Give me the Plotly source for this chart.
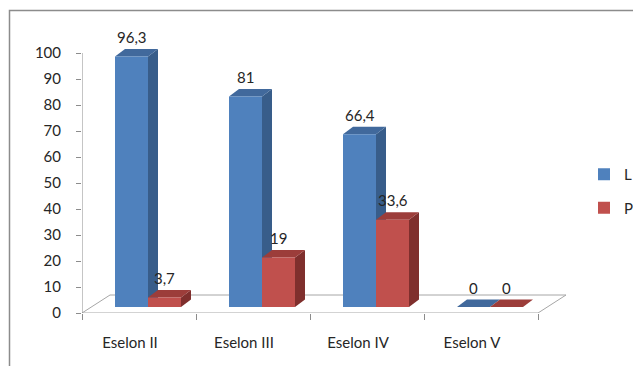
import plotly.graph_objects as go

# Data
categories = ["Eselon II", "Eselon III", "Eselon IV", "Eselon V"]
series_names = ["L", "P"]
values_L = [96.3, 81, 66.4, 0]
values_P = [3.7, 19, 33.6, 0]
y_ticks = [0, 10, 20, 30, 40, 50, 60, 70, 80, 90, 100]

# Layout geometry (pixels)
W, H = 633, 366
ML, MR, MT, MB = 82, 0, 20, 53
PW, PH = W - ML - MR, H - MT - MB
PX_PER_CAT = 114.0
PX_PER_UNIT = 2.6
x_range = [0, PW / PX_PER_CAT]
y_range = [0, PH / PX_PER_UNIT]

def px_x(p):
    return p / PX_PER_CAT

def px_y(p):
    return p / PX_PER_UNIT

# 3D offsets in data units
FLOOR_DX, FLOOR_DY = px_x(28), px_y(18)      # floor depth
FRONT_DX, FRONT_DY = px_x(9), px_y(6)        # bar front plane inside floor
BAR_DX, BAR_DY = px_x(10), px_y(7.5)         # bar depth
BAR_W = px_x(33)

colors = {
    "L": {"front": "#4F81BD", "side": "#385D8A", "top": "#41699C"},
    "P": {"front": "#C0504D", "side": "#7F2F2D", "top": "#9C3D3A"},
}

def fmt(v):
    return f"{v:g}".replace(".", ",")

shapes = []
annotations = []

# Floor
shapes.append(dict(
    type="path", xref="x", yref="y", layer="below",
    path=(f"M 0 0 L {len(categories)} 0 L {len(categories) + FLOOR_DX} {FLOOR_DY} "
          f"L {FLOOR_DX} {FLOOR_DY} Z"),
    fillcolor="white", line=dict(color="#A6A6A6", width=1),
))

# Vertical value axis line
shapes.append(dict(type="line", xref="x", yref="y", x0=0, x1=0, y0=0, y1=100,
                   line=dict(color="#8C8C8C", width=1), layer="below"))

fig = go.Figure()

for s_idx, (name, vals) in enumerate(zip(series_names, [values_L, values_P])):
    c = colors[name]
    centers = [i + 0.5 + FRONT_DX + (s_idx - 0.5) * BAR_W for i in range(len(categories))]
    fig.add_trace(go.Bar(
        x=centers, y=vals, base=[FRONT_DY] * len(vals), width=BAR_W,
        name=name, marker=dict(color=c["front"], line=dict(width=0)),
        legendgroup=name, hoverinfo="skip",
    ))
    for xc, v in zip(centers, vals):
        x0, x1 = xc - BAR_W / 2, xc + BAR_W / 2
        yb, yt = FRONT_DY, FRONT_DY + v
        # side face
        if v > 0:
            shapes.append(dict(
                type="path", xref="x", yref="y", layer="below",
                path=(f"M {x1} {yb} L {x1 + BAR_DX} {yb + BAR_DY} "
                      f"L {x1 + BAR_DX} {yt + BAR_DY} L {x1} {yt} Z"),
                fillcolor=c["side"], line=dict(width=0),
            ))
        # top face
        shapes.append(dict(
            type="path", xref="x", yref="y", layer="below",
            path=(f"M {x0} {yt} L {x1} {yt} L {x1 + BAR_DX} {yt + BAR_DY} "
                  f"L {x0 + BAR_DX} {yt + BAR_DY} Z"),
            fillcolor=c["top"], line=dict(width=0),
        ))
        annotations.append(dict(
            x=xc, y=yt + BAR_DY, xref="x", yref="y", text=fmt(v),
            showarrow=False, yanchor="bottom", yshift=1,
            font=dict(size=15, color="#262626"),
        ))

# Outer chart border
shapes.append(dict(
    type="rect", xref="paper", yref="paper", layer="above",
    x0=(9.5 - ML) / PW, x1=(W + 10 - ML) / PW,
    y0=(MT + PH - H - 10) / PH, y1=(MT + PH - 10.5) / PH,
    line=dict(color="#8C8C8C", width=1.5), fillcolor="rgba(0,0,0,0)",
))

# Invisible trace on the secondary x axis so its tick marks render
fig.add_trace(go.Scatter(x=[0, len(categories)], y=[0, 0], xaxis="x2",
                         mode="markers", marker=dict(opacity=0),
                         showlegend=False, hoverinfo="skip"))

fig.update_layout(
    width=W, height=H,
    margin=dict(l=ML, r=MR, t=MT, b=MB, autoexpand=False),
    paper_bgcolor="white", plot_bgcolor="white",
    font=dict(family="Lato", size=15, color="#262626"),
    barmode="overlay",
    showlegend=True,
    legend=dict(x=(584 - ML) / PW, y=(313 - 191) / PH, xanchor="left", yanchor="middle",
                traceorder="grouped", tracegroupgap=11, itemwidth=30,
                bgcolor="rgba(0,0,0,0)", font=dict(size=15)),
    xaxis=dict(range=x_range, showgrid=False, zeroline=False, showline=False,
               tickvals=[i + 0.5 - px_x(9) for i in range(len(categories))],
               ticktext=categories, ticks="", ticklabelstandoff=19),
    xaxis2=dict(range=x_range, overlaying="x", anchor="y", side="bottom",
                showgrid=False, zeroline=False, showline=False,
                tickvals=list(range(len(categories) + 1)), ticks="outside",
                ticklen=6, tickcolor="#8C8C8C", showticklabels=False),
    yaxis=dict(range=y_range, showgrid=False, zeroline=False, showline=False,
               tickvals=y_ticks, ticks="outside", ticklen=5, tickcolor="#8C8C8C",
               ticklabelstandoff=12),
    shapes=shapes, annotations=annotations,
)

fig.write_html("out.html")
